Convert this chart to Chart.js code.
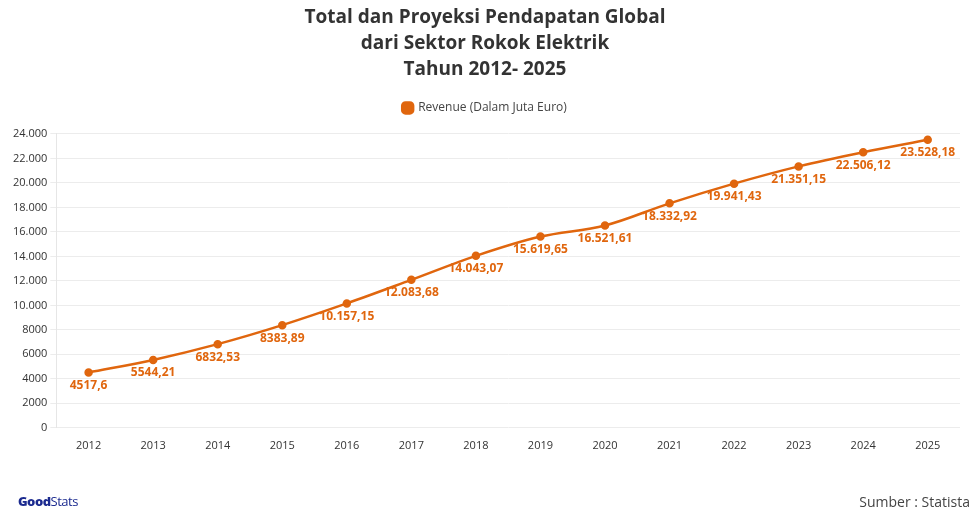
<!DOCTYPE html>
<html>
<head>
<meta charset="utf-8">
<script src="https://cdn.jsdelivr.net/npm/chart.js@4"></script>
<style>
  html, body { margin: 0; padding: 0; background: #fff; }
  #wrap { position: relative; width: 976px; height: 512px; }
  #src { position: absolute; right: 6px; top: 492px; font: 14px "Open Sans", sans-serif; color: #444; }
  #logo { position: absolute; left: 18px; top: 492px; font: 13px "Open Sans", sans-serif; color: #1b2a8f; letter-spacing: -0.5px; }
  #logo b { font-weight: 800; }
</style>
</head>
<body>
<div id="wrap">
  <canvas id="revenue-chart" width="976" height="512"></canvas>
  <div id="logo"><b>Good</b>Stats</div>
  <div id="src">Sumber : Statista</div>
</div>
<script>
const years = ['2012', '2013', '2014', '2015', '2016', '2017', '2018', '2019', '2020', '2021', '2022', '2023', '2024', '2025'];
const revenue = [4517.6, 5544.21, 6832.53, 8383.89, 10157.15, 12083.68, 14043.07, 15619.65, 16521.61, 18332.92, 19941.43, 21351.15, 22506.12, 23528.18];
const lineColor = '#e0660e';

function fmtThousands(v) {
	const s = String(Math.round(v));
	return v >= 10000 ? s.replace(/\B(?=(\d{3})+(?!\d))/g, '.') : s;
}

function fmtValue(v) {
	const parts = String(v).split('.');
	let ip = parts[0];
	if (v >= 10000) ip = ip.replace(/\B(?=(\d{3})+(?!\d))/g, '.');
	return parts.length > 1 ? ip + ',' + parts[1] : ip;
}

const valueLabels = {
	id: 'valueLabels',
	afterDatasetsDraw(chart) {
		const ctx = chart.ctx;
		const meta = chart.getDatasetMeta(0);
		ctx.save();
		ctx.font = 'bold 12px "Open Sans", sans-serif';
		ctx.fillStyle = lineColor;
		ctx.textAlign = 'center';
		ctx.textBaseline = 'middle';
		meta.data.forEach((pt, i) => {
			ctx.fillText(fmtValue(chart.data.datasets[0].data[i]), pt.x, pt.y + 13);
		});
		ctx.restore();
	}
};

// push the plot area down a bit under the legend
const legendGap = {
	id: 'legendGap',
	beforeInit(chart) {
		const fit = chart.legend.fit;
		chart.legend.fit = function () {
			fit.bind(chart.legend)();
			this.height += 10;
		};
	}
};

new Chart(document.getElementById('revenue-chart'), {
	type: 'line',
	data: {
		labels: years,
		datasets: [
			{
				label: 'Revenue (Dalam Juta Euro)',
				data: revenue,
				borderColor: lineColor,
				backgroundColor: lineColor,
				borderWidth: 2.5,
				pointRadius: 3,
				pointBackgroundColor: lineColor,
				tension: 0.35,
				fill: false,
			},
		],
	},
	options: {
		responsive: false,
		animation: false,
		layout: { padding: { left: 10, right: 16, bottom: 57, top: 0 } },
		plugins: {
			title: {
				display: true,
				text: ['Total dan Proyeksi Pendapatan Global', 'dari Sektor Rokok Elektrik', 'Tahun 2012- 2025'],
				font: { family: '"Open Sans", sans-serif', size: 19, weight: 'bold', lineHeight: 1.35 },
				color: '#333',
				padding: { top: 5, bottom: 10 },
			},
			legend: {
				labels: {
					usePointStyle: true,
					pointStyle: 'rectRounded',
					boxWidth: 9,
					boxHeight: 9,
					color: '#444',
					font: { family: '"Open Sans", sans-serif', size: 12 },
				},
			},
			tooltip: { enabled: false },
		},
		scales: {
			x: {
				offset: true,
				grid: { display: false },
				border: { display: false },
				ticks: { color: '#333', font: { family: '"Open Sans", sans-serif', size: 11 } },
			},
			y: {
				min: 0,
				max: 24000,
				ticks: {
					stepSize: 2000,
					color: '#333',
					font: { family: '"Open Sans", sans-serif', size: 11 },
					callback: (v) => fmtThousands(v),
				},
				grid: { color: '#ececec', tickLength: 6 },
				border: { display: true, color: '#e6e6e6' },
			},
		},
	},
	plugins: [valueLabels, legendGap],
});
</script>
</body>
</html>
